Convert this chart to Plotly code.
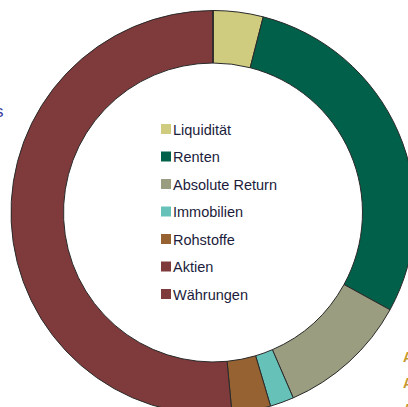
import plotly.graph_objects as go

# figure pixel == screen pixel (body margin removed below); the figure is a bit
# larger than the 408x407 window so the ring can run off the right/bottom edge.
W, H = 420, 420

categories = ["Liquidität", "Renten", "Absolute Return", "Immobilien", "Rohstoffe", "Aktien", "Währungen"]
shares = [4.0, 29.0, 10.5, 1.9, 3.1, 51.5, 0.0]
colors = ["#CFCB7F", "#00604A", "#9B9D80", "#66C2B8", "#966232", "#7F3B3C", "#7F3B3C"]


def px(x):
    return x / W


def py(y):
    return 1 - y / H


cx, cy, R = 213, 212.5, 202

fig = go.Figure()
fig.add_trace(go.Pie(
    labels=categories,
    values=shares,
    hole=0.74,
    sort=False,
    direction="clockwise",
    rotation=0,
    textinfo="none",
    hoverinfo="label+percent",
    marker=dict(colors=colors, line=dict(color="#2a2a2a", width=1)),
    domain=dict(x=[px(cx - R), px(cx + R)], y=[py(cy + R), py(cy - R)]),
    showlegend=False,
))

shapes = []
annotations = []
top_c, step = 129, 27.5
for i, (lab, col) in enumerate(zip(categories, colors)):
    c = top_c + i * step
    shapes.append(dict(type="rect", xref="paper", yref="paper",
                       x0=px(161), x1=px(171), y0=py(c + 5), y1=py(c - 5),
                       fillcolor=col, line=dict(width=0)))
    annotations.append(dict(text=lab, xref="paper", yref="paper",
                            x=px(171), y=py(c + 0.5), xanchor="left", yanchor="middle",
                            showarrow=False,
                            font=dict(family="Liberation Sans, Arial, sans-serif", size=14.5, color="#1c1c3c")))

# cropped text fragments at the picture edges
annotations.append(dict(text="s", xref="paper", yref="paper", x=px(6), y=py(112),
                        xanchor="right", yanchor="middle", showarrow=False,
                        font=dict(family="Liberation Sans, Arial, sans-serif", size=17, color="#3c3ca0")))
for yy in [357, 383, 409]:
    annotations.append(dict(text="<b>A</b>", xref="paper", yref="paper", x=px(401), y=py(yy),
                            xanchor="left", yanchor="middle", showarrow=False,
                            font=dict(family="Liberation Sans, Arial, sans-serif", size=14, color="#c8962e")))

fig.update_layout(
    width=W, height=H,
    margin=dict(l=0, r=0, t=0, b=0),
    paper_bgcolor="white", plot_bgcolor="white",
    shapes=shapes, annotations=annotations,
)

fig.write_html(
    "out.html",
    config={"displayModeBar": False},
    post_script="document.body.style.margin='0';document.body.style.overflow='hidden';",
)
